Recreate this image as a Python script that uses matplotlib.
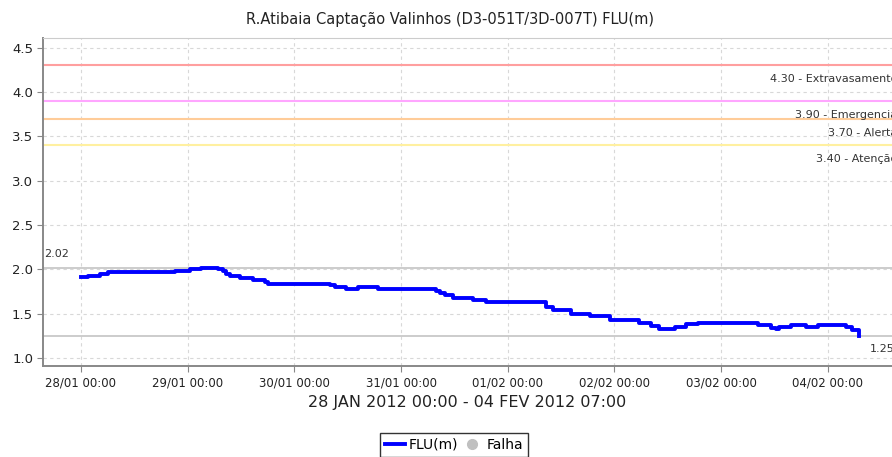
import numpy as np
import pandas as pd
import matplotlib
matplotlib.use('Agg')
import matplotlib.pyplot as plt
import matplotlib.dates as mdates

plt.rcParams['font.family'] = ['DejaVu Sans']

# hours after 28/01/2012 00:00 and level FLU(m)
hours = [0, 1.6, 2.8, 4.3, 6.1, 21.1, 24.5, 27.1, 30.9, 32.0, 32.7, 33.5, 34.2,
         35.7, 38.7, 41.3, 42.1, 56.0, 57.1, 59.7, 62.3, 66.8, 79.9, 80.7,
         81.8, 83.6, 88.1, 91.2, 104.7, 106.1, 110.3, 114.4, 118.9, 125.6,
         128.3, 130.1, 133.5, 136.1, 138.7, 152.2, 155.2, 156.4, 157.1, 159.7,
         163.1, 165.7, 172.1, 173.3, 175.0]
flu = [1.91, 1.92, 1.93, 1.95, 1.97, 1.98, 2.00, 2.02, 2.01, 1.98, 1.95, 1.93,
       1.92, 1.90, 1.88, 1.86, 1.84, 1.82, 1.80, 1.78, 1.80, 1.78, 1.76, 1.73,
       1.71, 1.68, 1.66, 1.63, 1.58, 1.54, 1.50, 1.47, 1.43, 1.40, 1.36, 1.33,
       1.35, 1.38, 1.40, 1.37, 1.34, 1.33, 1.35, 1.37, 1.35, 1.37, 1.35, 1.32,
       1.25]

# alarm levels
levels = [4.30, 3.90, 3.70, 3.40]
level_names = ['Extravasamento', 'Emergencia', 'Alerta', 'Atenção']
level_colors = ['#ff9f9f', '#ffa6ff', '#ffcc99', '#fff0a0']

start = pd.Timestamp('2012-01-28 00:00')
times = start + pd.to_timedelta(hours, unit='h')
vmax, vmin = max(flu), min(flu)

fig = plt.figure(figsize=(8.92, 4.57), dpi=100)
ax = fig.add_axes([0.048, 0.199, 0.952, 0.718])

for lv, name, c in zip(levels, level_names, level_colors):
    ax.axhline(lv, color=c, lw=1.5, zorder=2)
    ax.annotate(f'{lv:.2f} - {name}', xy=(1.006, lv), xycoords=('axes fraction', 'data'),
                xytext=(0, -6.5), textcoords='offset points', ha='right', va='top',
                fontsize=8, color='#333333', annotation_clip=False)

ax.axhline(vmax, color='#c8c8c8', lw=1.3, zorder=2)
ax.axhline(vmin, color='#c8c8c8', lw=1.3, zorder=2)
ax.annotate(f'{vmax:.2f}', xy=(0.002, vmax), xycoords=('axes fraction', 'data'),
            xytext=(0, 6), textcoords='offset points', ha='left', va='bottom',
            fontsize=8, color='#333333')
ax.annotate(f'{vmin:.2f}', xy=(times[-1], vmin), xycoords='data',
            xytext=(8, -6), textcoords='offset points', ha='left', va='top',
            fontsize=8, color='#333333', annotation_clip=False)

ax.plot(times, flu, drawstyle='steps-post', color='#0000ff', lw=2.8, zorder=3,
        label='FLU(m)')
ax.plot([], [], 'o', color='#c0c0c0', markersize=7, label='Falha')

ax.set_xlim(start - pd.Timedelta(hours=8.55), start + pd.Timedelta(days=7, hours=14.4))
ax.set_ylim(0.91, 4.61)
ax.set_yticks(np.arange(1.0, 4.51, 0.5))
ax.yaxis.set_major_formatter(plt.FormatStrFormatter('%.1f'))
ax.xaxis.set_major_locator(mdates.DayLocator())
ax.xaxis.set_major_formatter(mdates.DateFormatter('%d/%m %H:%M'))

ax.grid(True, color='#d8d8d8', ls=(0, (3, 3)), lw=0.8)
ax.set_axisbelow(True)
for s in ['left', 'bottom']:
    ax.spines[s].set_color('#888888')
    ax.spines[s].set_linewidth(1.4)
ax.spines['top'].set_color('#cccccc')
ax.spines['right'].set_visible(False)
ax.tick_params(axis='both', color='#888888', length=4, labelsize=8.5, labelcolor='#222222')
ax.tick_params(axis='y', labelsize=9.5, pad=3)

ax.set_title('R.Atibaia Captação Valinhos (D3-051T/3D-007T) FLU(m)', fontsize=10.5,
             color='#222222', pad=10, x=0.48)
ax.set_xlabel('28 JAN 2012 00:00 - 04 FEV 2012 07:00', fontsize=11.5, color='#222222',
              labelpad=4)

leg = fig.legend(loc='upper center', bbox_to_anchor=(0.509, 0.068), ncol=2,
                 fontsize=10, frameon=True, fancybox=False, handlelength=1.4,
                 handletextpad=0.3, columnspacing=0.3, borderpad=0.35)
leg.get_frame().set_edgecolor('black')
leg.get_frame().set_linewidth(1)

fig.savefig('out.png', dpi=100)
